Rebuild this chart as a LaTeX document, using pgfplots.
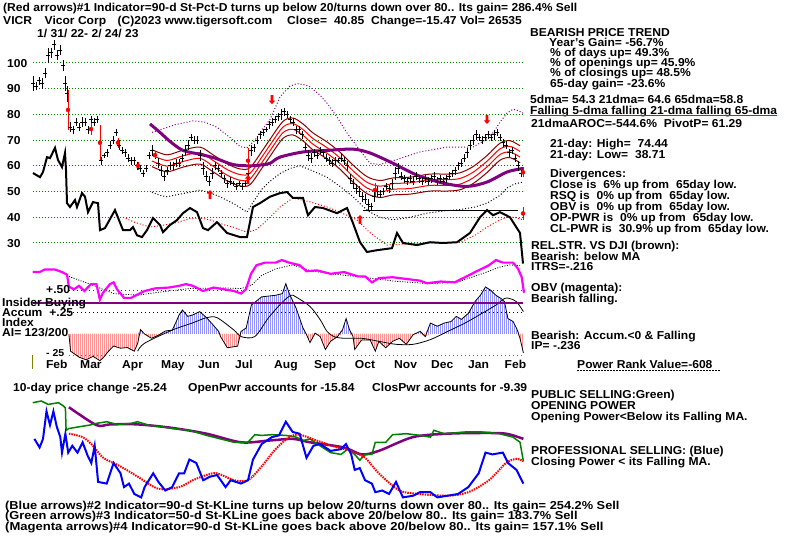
\documentclass[border=0pt]{standalone}
\usepackage{pgfplots}
\pgfplotsset{compat=1.18}
\usepackage{fontspec}
\setmainfont{Liberation Sans}[FakeStretch=1.05]
\usetikzlibrary{patterns}
\definecolor{tgreen}{RGB}{0,128,0}
\definecolor{tpurple}{RGB}{128,0,128}
\definecolor{tdred}{RGB}{139,0,0}
\definecolor{tmag}{RGB}{255,0,255}
\definecolor{tolive}{RGB}{128,128,0}
\pgfdeclarepatternformonly{vbars}{\pgfpointorigin}{\pgfpoint{2pt}{1pt}}{\pgfpoint{2pt}{1pt}}{%
  \pgfsetlinewidth{1pt}\pgfpathmoveto{\pgfpoint{0.5pt}{-0.2pt}}\pgfpathlineto{\pgfpoint{0.5pt}{1.2pt}}\pgfusepath{stroke}}
\pgfdeclareplotmark{darrow}{%
  \pgfpathmoveto{\pgfqpoint{-1.3pt}{9pt}}\pgfpathlineto{\pgfqpoint{1.3pt}{9pt}}%
  \pgfpathlineto{\pgfqpoint{1.3pt}{3.5pt}}\pgfpathlineto{\pgfqpoint{3.2pt}{3.5pt}}%
  \pgfpathlineto{\pgfqpoint{0pt}{0pt}}\pgfpathlineto{\pgfqpoint{-3.2pt}{3.5pt}}%
  \pgfpathlineto{\pgfqpoint{-1.3pt}{3.5pt}}\pgfpathclose\pgfusepathqfill}
\pgfdeclareplotmark{uarrow}{%
  \pgfpathmoveto{\pgfqpoint{-1.3pt}{-9pt}}\pgfpathlineto{\pgfqpoint{1.3pt}{-9pt}}%
  \pgfpathlineto{\pgfqpoint{1.3pt}{-3.5pt}}\pgfpathlineto{\pgfqpoint{3.2pt}{-3.5pt}}%
  \pgfpathlineto{\pgfqpoint{0pt}{0pt}}\pgfpathlineto{\pgfqpoint{-3.2pt}{-3.5pt}}%
  \pgfpathlineto{\pgfqpoint{-1.3pt}{-3.5pt}}\pgfpathclose\pgfusepathqfill}
\newcommand\T[3]{\node[anchor=base west,inner sep=0pt] at (#1,{#2+4.1}) {#3};}

% 21-dma bands: x, upper2, upper1, lower1, lower2
\pgfplotstableread{
x u2 u1 l1 l2
152 66.3 64.1 61.9 59.7
167 64.3 62.1 59.9 57.7
183 66.1 63.9 61.7 59.5
200 67.3 65.1 62.9 60.7
213 64.3 62.1 59.9 57.7
227 60.8 58.6 56.4 54.2
240 58.8 56.6 54.4 52.2
250 59.3 57.1 54.9 52.7
263 66.3 64.1 61.9 59.7
270 70.3 68.1 65.9 63.7
283 77.3 75.1 72.9 70.7
293 78.6 76.4 74.2 72.0
303 76.3 74.1 71.9 69.7
313 72.8 70.6 68.4 66.2
327 69.3 67.1 64.9 62.7
340 65.3 63.1 60.9 58.7
353 60.3 58.1 55.9 53.7
367 55.8 53.6 51.4 49.2
380 54.3 52.1 49.9 47.7
393 55.3 53.1 50.9 48.7
410 55.6 53.4 51.2 49.0
430 56.8 54.6 52.4 50.2
447 56.8 54.6 52.4 50.2
460 57.3 55.1 52.9 50.7
473 59.7 57.5 55.3 53.1
487 64.0 61.8 59.6 57.4
500 68.8 66.6 64.4 62.2
510 69.8 67.6 65.4 63.2
520 67.8 65.6 63.4 61.2
}\bandtab

% Accumulation index
\pgfplotstableread{
x y
68.9 0
70.6 -0.2
79.2 -0.27
86.1 -0.3
93 -0.26
99.9 -0.31
103.3 -0.275
108.5 -0.2
113.6 -0.14
120.5 -0.165
127.4 -0.158
134.3 -0.2
137.7 -0.107
140.5 0.05
144.6 0
151.5 -0.05
158.4 -0.015
165.3 0.035
172.2 0.045
175.6 0.127
179.1 0.222
182.5 0.279
187.7 0.205
192.8 0.222
199.7 0.26
206.6 0.19
213.5 0.1
218.7 0.03
220.4 -0.027
227.3 -0.16
237.6 -0.141
241 0.03
246.2 0.07
251.4 0.337
261.7 0.432
275.5 0.45
282.4 0.47
285.8 0.585
289.3 0.47
296.1 0.3
303 0.07
306.5 -0.007
310 -0.1
315.1 0.01
320.2 -0.03
325.4 -0.18
330.6 -0.085
337.5 -0.03
342.6 0.05
346.1 0.18
349.5 0.05
353 -0.03
354.7 -0.18
361.6 -0.07
370.2 -0.07
375.3 -0.2
378.8 -0.085
385.7 -0.16
392.6 -0.085
399.4 -0.05
406.3 -0.12
413.2 -0.007
420.1 0.03
425.3 -0.03
430.4 0.127
437.3 0.09
444.2 0.127
451.1 0.145
456.3 0.205
461.4 0.17
468.3 0.24
475.2 0.38
480.4 0.45
485.5 0.547
490.7 0.509
495.9 0.45
501 0.413
504.5 0.375
507.9 0.18
513.1 0.145
517.2 0.05
520 -0.05
523.4 -0.22
}\aitab

\begin{document}
\begin{tikzpicture}
\path (0,0) rectangle (800pt,540pt);

%================ PRICE PANEL =================
\begin{axis}[at={(33pt,245.57pt)}, anchor=south west, scale only axis,
  width=490pt, height=257.14pt, xmin=33, xmax=523, ymin=10, ymax=110,
  clip=false, axis line style={draw=none}, xtick=\empty,
  ytick={30,40,50,60,70,80,90,100}, yticklabels={}, major tick style={draw=none},
  ymajorgrids, grid style={tgreen, line width=1pt, dash pattern=on 1pt off 2pt}]
% upper band (purple dotted)
\addplot[tpurple, line width=1pt, dash pattern=on 1pt off 2pt] coordinates {
(152,73) (160,74) (175,76) (193,77.5) (205,77) (217,75) (230,71) (240,67.5) (247,67)
(255,70) (262,74) (270,78) (280,86.8) (290,91) (297,92) (305,91.5) (310,90.7) (320,87.5)
(327,84.4) (337,79) (347,72.8) (360,66) (370,61) (380,60.5) (393,62) (405,63.5) (420,65.4)
(447,67.3) (473,67.3) (485,70) (493,72.8) (500,77) (507,80.5) (513,82) (518,81.5) (523,80.5)};
% lower band (black dotted)
\addplot[black, line width=1pt, dash pattern=on 1pt off 2pt] coordinates {
(152,49.8) (160,48.5) (167,48) (180,49) (193,50) (200,50.6) (210,49.5) (220,48) (235,45)
(247,42) (255,47) (262,51) (270,54) (280,57) (290,59) (300,60) (310,58.5) (327,55.6)
(340,52) (353,48) (362,44.5) (370,42) (380,40) (393,39) (410,40) (427,41.6) (445,42.5)
(460,43) (475,44) (487,45.5) (500,48.5) (507,51.4) (515,53) (523,53.7)};
% 21-dma bands
\addplot[tdred, line width=1pt, smooth] table[x=x,y=u2] {\bandtab};
\addplot[red, line width=1pt, smooth] table[x=x,y=u1] {\bandtab};
\addplot[red, line width=1pt, smooth] table[x=x,y=l1] {\bandtab};
\addplot[tdred, line width=1pt, smooth] table[x=x,y=l2] {\bandtab};
% 65-dma (purple thick)
\addplot[tpurple, line width=3pt, smooth] coordinates {
(150,76.3) (160,73) (170,69.5) (183,66) (200,64.5) (215,63) (233,60.5) (250,60) (260,60.3)
(270,61) (280,63.4) (303,65.4) (327,66) (353,66.5) (370,65) (393,61) (417,56.4) (443,53.3)
(467,52) (487,53.7) (507,57.6) (523,59)};
% rel. strength MA (red dotted)
\addplot[red, line width=1pt, dash pattern=on 1pt off 2pt] coordinates {
(123,40) (135,38) (150,36.2) (165,37) (177,38) (190,39.5) (200,39.7) (210,39) (217,38)
(225,37) (233,36.2) (247,34.2) (255,35) (262,37) (270,40) (280,44) (293,47.5) (310,46)
(327,44) (340,42) (357,39) (370,34) (387,29.2) (400,29.5) (427,30) (460,30.3) (475,33)
(487,36.2) (500,39) (507,40) (515,40) (523,39)};
% reference line
\addplot[black, line width=1pt] coordinates {(363,42.8) (518,42.8)};
% relative strength vs DJI (black thick)
\addplot[black, line width=2pt] coordinates {
(33,57.2) (40,55.6) (43,57.6) (47,63.4) (50,63) (55,67) (58,62.3) (62,59.5) (65,65) (66,58.4)
(67,45.5) (70,44) (75,46.7) (77,44) (82,49.4) (85,48) (88,42) (93,45.9) (98,45.5) (100,35)
(105,35.8) (115,42.8) (123,35) (130,35) (133,36.2) (137,33) (142,32.3) (147,35) (153,39.7)
(160,37) (163,34.2) (170,37) (177,38.9) (183,41.6) (190,43.6) (197,42) (203,35.8) (208,35)
(217,38.1) (227,33.9) (240,32.3) (247,32.3) (253,44) (260,45.5) (270,48) (280,49.4) (287,49.8)
(293,47.5) (303,47.5) (308,40.8) (315,44) (323,43.6) (337,41.6) (347,43.6) (353,37.7)
(360,30.3) (367,26.5) (377,27.2) (392,28) (397,33.9) (403,30) (417,29.2) (430,30.3) (443,30)
(457,30.3) (470,33.9) (480,40) (487,42.8) (493,40.8) (500,42) (510,40) (520,33.9) (523,22)};
% price bars (close with high-low range)
\addplot[black, only marks, mark=-, mark size=2pt, mark options={line width=1pt},
  error bars/.cd, y dir=both, y explicit, error mark=none,
  error bar style={black, line width=1pt}] coordinates {
(33,92) +- (0,3) (36,91) +- (0,1.5) (39,93) +- (0,1.5) (42,92) +- (0,2) (45,96) +- (0,2)
(48,103) +- (0,3) (51,104) +- (0,2) (54,107) +- (0,2) (57,103) +- (0,2) (60,105) +- (0,2)
(63,99) +- (0,2) (65,92) +- (0,3) (67,88) +- (0,3)
(70,75) +- (0,2) (73,74) +- (0,1.5) (76,77) +- (0,1.5) (79,75) +- (0,1.5) (82,77) +- (0,2)
(85,77) +- (0,1.5) (88,74) +- (0,1.5) (91,78) +- (0,1.5) (94,77) +- (0,1.5) (97,78) +- (0,1.5)
(101,62) +- (0,1.5) (104,64) +- (0,1) (107,65) +- (0,1.5) (110,68) +- (0,1.5) (113,70) +- (0,1.5)
(116,73) +- (0,1.5) (119,68) +- (0,2) (122,66) +- (0,1.5) (125,65) +- (0,1.5) (128,63) +- (0,1.5)
(131,62) +- (0,1.5) (134,62) +- (0,1.5) (137,60) +- (0,1.5) (140,59) +- (0,1.5) (143,57) +- (0,1.5)
(146,59) +- (0,1.5) (149,64) +- (0,1.5) (152,66) +- (0,2) (155,64) +- (0,1.5) (158,61) +- (0,2)
(161,58) +- (0,2) (164,56) +- (0,2) (167,58) +- (0,1.5) (170,60) +- (0,1.5) (173,60) +- (0,1.5)
(176,61) +- (0,1.5) (179,61) +- (0,1.5) (182,63) +- (0,1.5) (185,66) +- (0,2) (188,68) +- (0,2)
(191,71) +- (0,1.5) (194,70) +- (0,1.5) (197,70) +- (0,1.5) (200,64) +- (0,2) (203,59) +- (0,2.5)
(206,56) +- (0,2) (209,54) +- (0,2) (212,57) +- (0,2) (215,60) +- (0,1.5) (218,59) +- (0,1.5)
(221,57) +- (0,1.5) (224,55) +- (0,1.5) (227,53) +- (0,1.5) (230,54) +- (0,1.5) (233,53) +- (0,1)
(236,52) +- (0,1.5) (239,53) +- (0,1) (242,52) +- (0,1.5) (245,53) +- (0,1) (248,57) +- (0,1.5)
(251,66) +- (0,2) (254,67) +- (0,1.5) (257,70) +- (0,1.5) (260,72) +- (0,1.5) (263,73) +- (0,1.5)
(266,74) +- (0,1) (269,76) +- (0,1.5) (272,77) +- (0,1.5) (275,78) +- (0,1.5) (278,79) +- (0,1.5)
(281,80) +- (0,2) (284,81) +- (0,1.5) (287,80) +- (0,1.5) (290,78) +- (0,1.5) (293,77) +- (0,1.5)
(296,74) +- (0,1.5) (299,74) +- (0,1.5) (302,72) +- (0,1.5) (305,67) +- (0,2) (308,64) +- (0,2)
(311,63) +- (0,2) (314,65) +- (0,1.5) (317,64) +- (0,1.5) (320,66) +- (0,1.5) (323,65) +- (0,1.5)
(326,63) +- (0,1.5) (329,62) +- (0,1.5) (332,61) +- (0,1.5) (335,62) +- (0,1.5) (338,62) +- (0,1)
(341,63) +- (0,1.5) (344,62) +- (0,1.5) (347,60) +- (0,2) (350,55) +- (0,2) (353,53) +- (0,2)
(356,51) +- (0,2) (359,50) +- (0,2) (362,48) +- (0,2) (365,47) +- (0,2) (368,45) +- (0,2)
(371,44) +- (0,1.5) (374,48) +- (0,2) (377,50) +- (0,2) (380,49) +- (0,1.5) (383,50) +- (0,1.5)
(386,52) +- (0,1.5) (389,51) +- (0,1.5) (392,53) +- (0,2) (395,57) +- (0,2.5) (398,59) +- (0,2)
(401,56) +- (0,1.5) (404,55) +- (0,1.5) (407,54) +- (0,1.5) (410,55) +- (0,1.5) (413,54) +- (0,1.5)
(416,56) +- (0,1.5) (419,55) +- (0,1.5) (422,54) +- (0,1.5) (425,55) +- (0,1.5) (428,54) +- (0,1.5)
(431,55) +- (0,1.5) (434,56) +- (0,1.5) (437,54) +- (0,1.5) (440,55) +- (0,1.5) (443,54) +- (0,1.5)
(446,55) +- (0,1.5) (449,56) +- (0,1.5) (452,57) +- (0,1.5) (455,58) +- (0,1.5) (458,60) +- (0,1.5)
(461,61) +- (0,1.5) (464,63) +- (0,1.5) (467,65) +- (0,2) (470,68) +- (0,2) (473,70) +- (0,2)
(476,72) +- (0,2) (479,71) +- (0,1.5) (482,70) +- (0,1.5) (485,71) +- (0,1.5) (488,72) +- (0,1.5)
(491,71) +- (0,1.5) (494,72) +- (0,2) (497,73) +- (0,1.5) (500,71) +- (0,1.5) (503,69) +- (0,1.5)
(506,68) +- (0,1.5) (509,65) +- (0,1.5) (512,66) +- (0,1.5) (515,63) +- (0,1.5) (518,60) +- (0,2)
(521,57) +- (0,1.5)};
% red gap bars
\addplot[red, only marks, mark=none, error bars/.cd, y dir=both, y explicit, error mark=none,
  error bar style={red, line width=1pt}] coordinates {
(68,81.75) +- (0,7.75) (91,74.3) +- (0,2.3) (100,69) +- (0,7) (118,69) +- (0,2)
(138,60) +- (0,1.6) (155,64.2) +- (0,1.2) (248,62) +- (0,5) (375,50.6) +- (0,2.7)
(523,57.5) +- (0,2) (523,41.5) +- (0,2.5)};
% arrows
\addplot[red, fill=red, only marks, mark=darrow] coordinates {(272,84) (487,76.3)};
\addplot[red, fill=red, only marks, mark=uarrow] coordinates {(210,50.6) (360,40.9) (248,56.4)};
\end{axis}

%================ OBV / ACCUMULATION PANEL =================
\begin{axis}[at={(33pt,184.5pt)}, anchor=south west, scale only axis,
  width=490pt, height=107.5pt, xmin=33, xmax=523, ymin=-0.25, ymax=1,
  clip=false, axis line style={draw=none}, xtick=\empty, ytick=\empty]
\addplot[tpurple, line width=1pt, dash pattern=on 1pt off 3pt] coordinates {(69,0.5) (523,0.5)};
\addplot[black, line width=1pt, dash pattern=on 1pt off 3pt] coordinates {(69,0.25) (523,0.25)};
\addplot[tmag, line width=1pt, dash pattern=on 1pt off 3pt] coordinates {(69,-0.25) (523,-0.25)};
\addplot[tolive, line width=1pt] coordinates {(32,-0.25) (32,-0.41)};
\addplot[draw=none, pattern=vbars, pattern color=blue, y filter/.expression={max(y,0)}] table {\aitab} \closedcycle;
\addplot[draw=none, pattern=vbars, pattern color=red, y filter/.expression={min(y,0)}] table {\aitab} \closedcycle;
\addplot[black, line width=0.8pt] table {\aitab};
% AI moving average
\addplot[black, line width=0.8pt, smooth] coordinates {
(137.7,-0.2) (144.6,-0.107) (172.2,0.045) (192.8,0.13) (206.6,0.19) (217,0.19) (234,0.045)
(241,-0.03) (254.8,-0.03) (268.6,0.19) (282.4,0.37) (291,0.45) (296.1,0.43) (310,0.32)
(320.2,0.166) (327,0.03) (334,-0.03) (344,-0.05) (361.6,-0.05) (378.8,-0.085) (396,-0.12)
(413.2,-0.12) (430.4,-0.065) (447.7,0.03) (465,0.127) (482,0.24) (496,0.337) (504.5,0.413)
(509.6,0.413) (516.5,0.375) (523.4,0.26)};
% insider buying line
\addplot[tpurple, line width=1.2pt] coordinates {(33,0.36) (523,0.36)};
% OBV MA (dotted)
\addplot[black, line width=0.8pt, dash pattern=on 1pt off 1.5pt] coordinates {
(68.9,0.67) (93,0.566) (113.6,0.47) (137.7,0.452) (161.8,0.49) (189.4,0.528) (223.8,0.536)
(241,0.528) (251.4,0.566) (261.7,0.681) (275.5,0.757) (292.7,0.803) (310,0.738) (330.6,0.70)
(361.6,0.662) (396,0.612) (430.4,0.585) (458,0.605) (482,0.70) (499.3,0.777) (509.6,0.803)
(520,0.796)};
% OBV (magenta)
\addplot[tmag, line width=2.2pt] coordinates {
(32.7,0.72) (39.6,0.72) (44.8,0.75) (55,0.75) (62,0.72) (67,0.69) (68.9,0.55) (74,0.52)
(79,0.56) (84.4,0.5) (91,0.58) (96.4,0.58) (99.9,0.4) (103,0.48) (110,0.58)
(113.6,0.6) (117,0.52) (124,0.42) (131,0.42) (137.7,0.46) (144.6,0.5) (155,0.53)
(168.7,0.54) (179,0.56) (186,0.58) (192.8,0.56) (203,0.5) (213.5,0.54) (223.8,0.52)
(234,0.5) (241,0.47) (246,0.52) (251,0.7) (256.5,0.8) (265,0.83) (275.5,0.83)
(282,0.86) (289,0.83) (299.6,0.8) (306.5,0.73) (316.8,0.74) (330.6,0.7) (344,0.72)
(358,0.67) (365,0.67) (372,0.6) (378.8,0.65) (392.6,0.66) (406,0.64) (420,0.62)
(427,0.59) (440.8,0.61) (454.5,0.6) (465,0.66) (475,0.72) (489,0.8) (496,0.86)
(502.8,0.83) (513,0.83) (518,0.76) (521.7,0.66) (524,0.48)};
\end{axis}

%================ OPENING / CLOSING POWER PANEL =================
\begin{axis}[at={(33pt,40pt)}, anchor=south west, scale only axis,
  width=490pt, height=130pt, xmin=33, xmax=523, ymin=0, ymax=130,
  clip=false, axis line style={draw=none}, xtick=\empty, ytick=\empty]
% opening power MA (purple)
\addplot[tpurple, line width=2.5pt, smooth] coordinates {
(68.9,92.8) (96.4,74.9) (110,75.6) (137.7,75.6) (172,72.1) (206.6,66.3) (241,57.7)
(268.6,59.4) (292.7,61.1) (310,57.7) (344,52.5) (361.6,45.6) (378.8,49.1) (413,62.9)
(447.7,66.3) (482,67) (506,66.3) (523.4,61.1)};
% opening power (green)
\addplot[tgreen, line width=1.5pt] coordinates {
(32.7,97.3) (41.3,99) (48.2,95.6) (58.5,97.3) (63.7,93.8) (65.4,92.1) (66.1,69.7) (68.9,71.5)
(79.2,73.2) (89.5,74.9) (96.4,76.6) (106.7,78.3) (117,75.6) (130.9,76.6) (137.7,78.3)
(148,74.9) (161.8,73.2) (172.2,71.5) (189.4,69.7) (206.6,64.6) (220.4,61.1) (234.2,57.7)
(247.9,57.7) (254.8,65.3) (261.7,64.6) (272,65.3) (285.8,64.6) (296.1,62.9) (303,59.4)
(310,61.1) (320,54.2) (330.6,47.4) (340.9,45.6) (347.8,50.8) (354.7,45.6) (359.8,39.8)
(365,45.6) (371.9,45.6) (375.3,57.7) (385.7,57.7) (392.6,65.3) (406.3,66.3) (420,64.6)
(430.4,62.9) (433.9,69.7) (444.2,66.3) (464.9,68) (482,68) (499.3,66.3) (513,62.9)
(520,57.7) (523.4,38.7)};
% closing power MA (red dotted)
\addplot[red, line width=2pt, dash pattern=on 1.5pt off 1pt, smooth] coordinates {
(68.9,66.3) (82.6,62.9) (93,54.2) (103.3,42.2) (120.5,33.6) (137.7,23.3) (158.4,11.2)
(179,12.9) (192.8,19.8) (206.6,25) (217,26.7) (234.2,19.8) (248,19.8) (261.7,33.6)
(275.5,50.8) (289.3,62.9) (299.6,65.3) (316.8,59.4) (337.5,52.5) (351.2,49.1) (365,42.2)
(378.8,26.7) (399.4,9.5) (420,6) (447.7,4.3) (468.3,7.8) (489,19.8) (506,37) (516.5,41.1)
(523.4,38.7)};
% closing power (blue)
\addplot[blue, line width=2pt] coordinates {
(34.4,61.1) (39.6,52.5) (43,61.1) (46.5,88.7) (50,74.9) (53.4,88.7) (56.8,73.2) (60.3,62.9)
(62,47.4) (65.4,66.3) (68.2,47.4) (72.3,54.2) (77.5,47.4) (82.6,57.7) (87.8,43.9) (91.3,37)
(94.7,54.2) (98.1,18.1) (106.7,16.4) (113.6,37) (120.5,26.7) (124,12.9) (129,16.4) (134.3,6)
(141.2,2.6) (144.6,12.9) (153.2,26.7) (158.4,18.1) (165.3,9.5) (172.2,12.9) (179,26.7)
(184.2,26.7) (189.4,40.5) (196.3,37) (203.2,19.8) (210,23.3) (217,25) (225.6,12.9)
(230.7,19.8) (241,16.4) (248,19.8) (253,40.5) (261.7,56) (272,62.9) (279,64.6) (285.8,78.3)
(292.7,68) (299.6,66.3) (306.5,42.2) (313.4,54.2) (320,56) (330.6,49.1) (341,50.8) (346,56)
(351.2,45.6) (354.7,30.1) (359.8,31.9) (365,19.8) (371.9,16.4) (375.3,7.8) (382.2,9.5)
(389,6) (396,18.1) (402.9,2.6) (413.2,4.3) (420,7.8) (430.4,7.8) (437.3,2.6) (447.7,4.3)
(458,6) (468.3,12.9) (478.7,26.7) (485.5,47.4) (492.4,45.6) (502.8,47.4) (508,37)
(516.5,30.1) (523.4,16.4)};
\end{axis}

%================ TEXT =================
\begin{scope}[shift={(0,540pt)}, x=1pt, y=-1pt, font=\bfseries\fontsize{11.5}{11.5}\selectfont]
\T{3}{7}{(Red arrows)\#1 Indicator=90-d St-Pct-D turns up below 20/turns down over 80.. Its gain= 286.4\% Sell}
\T{3}{20}{VICR\hspace{1.1em}Vicor Corp\hspace{1em}(C)2023 www.tigersoft.com\hspace{1.3em}Close=\hspace{0.6em}40.85\hspace{0.6em}Change=-15.47 Vol= 26535}
\T{37}{33}{1/ 31/ 22- 2/ 24/ 23}
% price labels
\T{7}{63}{100}\T{7}{88.7}{90}\T{7}{114.4}{80}\T{7}{140.1}{70}
\T{7}{165.9}{60}\T{7}{191.6}{50}\T{7}{217.3}{40}\T{7}{243}{30}
% accumulation labels
\T{46}{289}{+.50}
\T{2}{302}{Insider Buying}
\T{2}{312.5}{Accum\hspace{0.6em}+.25}
\T{2}{322.5}{Index}
\T{2}{332.5}{AI= 123/200}
\node[anchor=base west,inner sep=0pt,font=\bfseries\fontsize{10}{10}\selectfont] at (46,356.5) {- 25};
% months
\T{45.8}{364}{Feb}\T{80}{364}{Mar}\T{122}{364}{Apr}\T{161}{364}{May}\T{198}{364}{Jun}
\T{235}{364}{Jul}\T{274}{364}{Aug}\T{314}{364}{Sep}\T{354.7}{364}{Oct}\T{394}{364}{Nov}
\T{431}{364}{Dec}\T{468}{364}{Jan}\T{504.5}{364}{Feb}
% right column
\T{530}{32}{BEARISH PRICE TREND}
\T{549}{42}{Year's Gain= -56.7\%}
\T{550}{52}{\% of days up= 49.3\%}
\T{550}{62}{\% of openings up= 45.9\%}
\T{550}{72}{\% of closings up= 48.5\%}
\T{550}{83}{65-day gain= -23.6\%}
\T{530}{99}{5dma= 54.3 21dma= 64.6 65dma=58.8}
\T{530}{110}{Falling 5-dma falling 21-dma falling 65-dma}
\draw[red, line width=1pt] (530,115.5) -- (777,115.5);
\T{531}{123}{21dmaAROC=-544.6\%\hspace{0.6em}PivotP= 61.29}
\T{550}{143}{21-day: High=\hspace{0.6em}74.44}
\T{550}{154}{21-day: Low=\hspace{0.6em}38.71}
\T{550}{173}{Divergences:}
\T{550}{184}{Close is\hspace{0.6em}6\% up from\hspace{0.6em}65day low.}
\T{550}{195}{RSQ is\hspace{0.6em}0\% up from\hspace{0.6em}65day low.}
\T{550}{206}{OBV is\hspace{0.6em}0\% up from\hspace{0.6em}65day low.}
\T{550}{217}{OP-PWR is\hspace{0.6em}0\% up from\hspace{0.6em}65day low.}
\T{550}{228}{CL-PWR is\hspace{0.6em}30.9\% up from\hspace{0.6em}65day low.}
\T{531}{245}{REL.STR. VS DJI (brown):}
\T{531}{256}{Bearish: below MA}
\T{531}{266}{ITRS=-.216}
\T{531}{287}{OBV (magenta):}
\T{531}{298}{Bearish falling.}
\T{531}{335}{Bearish: Accum.<0 \& Falling}
\T{531}{345}{IP= -.236}
\T{577}{364}{Power Rank Value=-608}
\draw[black, line width=0.8pt, dash pattern=on 2pt off 1pt] (577,370) -- (720,370);
\T{531}{394}{PUBLIC SELLING:Green)}
\T{531}{405}{OPENING POWER}
\T{531}{416}{Opening Power<Below its Falling MA.}
\T{531}{450}{PROFESSIONAL SELLING: (Blue)}
\T{531}{461}{Closing Power < its Falling MA.}
% bottom text
\T{13}{387}{10-day price change -25.24}
\T{188}{387}{OpenPwr accounts for -15.84}
\T{372}{387}{ClosPwr accounts for -9.39}
\T{5}{505}{\scalebox{1.06}[1]{(Blue arrows)\#2 Indicator=90-d St-KLine turns up below 20/turns down over 80.. Its gain= 254.2\% Sell}}
\T{5}{515.5}{\scalebox{1.06}[1]{(Green arrows)\#3 Indicator=50-d St-KLine goes back above 20/below 80.. Its gain= 183.7\% Sell}}
\T{5}{526}{\scalebox{1.08}[1]{(Magenta arrows)\#4 Indicator=90-d St-KLine goes back above 20/below 80.. Its gain= 157.1\% Sell}}
\end{scope}
\end{tikzpicture}
\end{document}
